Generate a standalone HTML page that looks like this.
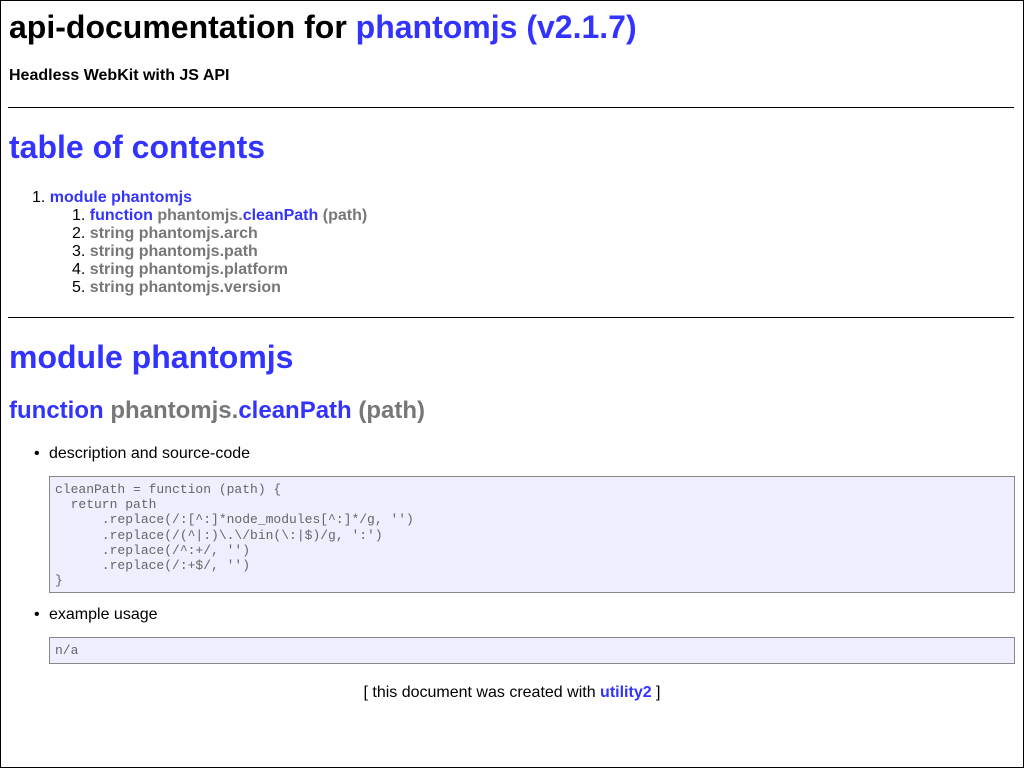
<!DOCTYPE html>
<html><head><meta charset="utf-8"><style>
html,body{margin:0;padding:0;}
body{width:1022px;height:766px;border:1px solid #000;position:relative;overflow:hidden;font-family:"Liberation Sans",sans-serif;color:#000;background:#fff;}
.a{position:absolute;white-space:nowrap;}
.b{color:#33f;font-weight:bold;}
.g{color:#777;font-weight:bold;}
hr{position:absolute;left:7px;width:1006px;margin:0;border:0;border-top:1px solid #000;height:0;}
.code{position:absolute;left:48px;width:966px;background:#eef;border:1px solid #888;padding:0 5px;font-family:"Liberation Mono",monospace;font-size:13px;line-height:15.2px;color:#666;white-space:pre;box-sizing:border-box;}
.n{font-weight:normal;color:#000;}
</style></head><body>
<div class="a" style="left:8px;top:8px;font-size:32px;font-weight:bold;line-height:37px;">api-documentation for <span style="color:#33f">phantomjs (v2.1.7)</span></div>
<div class="a" style="left:8px;top:66px;font-size:16px;font-weight:bold;line-height:18px;">Headless WebKit with JS API</div>
<hr style="top:106px">
<div class="a b" style="left:8px;top:128px;font-size:32px;line-height:37px;">table of contents</div>
<div class="a" style="left:31px;top:188px;font-size:16px;line-height:18px;">
<div><span class="n">1. </span><span class="b">module phantomjs</span></div>
<div style="padding-left:40px"><span class="n">1. </span><span class="b">function</span> <span class="g">phantomjs.</span><span class="b">cleanPath</span> <span class="g">(path)</span></div>
<div style="padding-left:40px"><span class="n">2. </span><span class="g">string phantomjs.arch</span></div>
<div style="padding-left:40px"><span class="n">3. </span><span class="g">string phantomjs.path</span></div>
<div style="padding-left:40px"><span class="n">4. </span><span class="g">string phantomjs.platform</span></div>
<div style="padding-left:40px"><span class="n">5. </span><span class="g">string phantomjs.version</span></div>
</div>
<hr style="top:316px">
<div class="a b" style="left:8px;top:338px;font-size:32px;line-height:37px;">module phantomjs</div>
<div class="a" style="left:8px;top:396px;font-size:24px;line-height:28px;"><span class="b">function</span> <span class="g">phantomjs.</span><span class="b">cleanPath</span> <span class="g">(path)</span></div>
<div class="a" style="left:33px;top:444px;font-size:16px;line-height:18px;">•</div>
<div class="a" style="left:48px;top:444px;font-size:16px;line-height:18px;">description and source-code</div>
<div class="code" style="top:475px;height:117px;padding-top:5px;">cleanPath = function (path) {
  return path
      .replace(/:[^:]*node_modules[^:]*/g, '')
      .replace(/(^|:)\.\/bin(\:|$)/g, ':')
      .replace(/^:+/, '')
      .replace(/:+$/, '')
}</div>
<div class="a" style="left:33px;top:605px;font-size:16px;line-height:18px;">•</div>
<div class="a" style="left:48px;top:605px;font-size:16px;line-height:18px;">example usage</div>
<div class="code" style="top:636px;height:27px;padding-top:5px;">n/a</div>
<div class="a" style="left:-1px;width:1024px;text-align:center;top:683px;font-size:16px;line-height:18px;">[ this document was created with <span class="b">utility2</span> ]</div>
</body></html>
